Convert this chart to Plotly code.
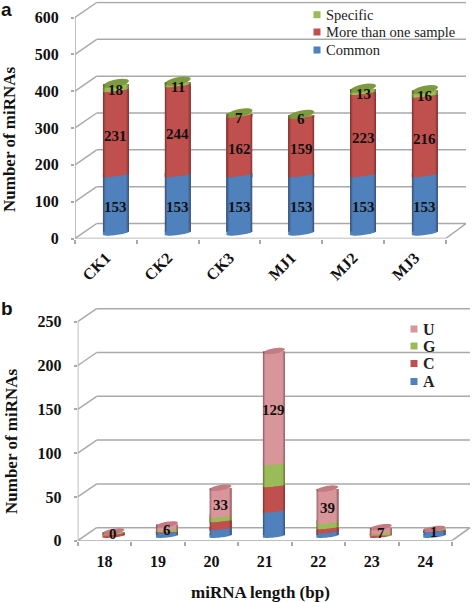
import math
import plotly.graph_objects as go

W, H = 472, 602
SERIF = "Liberation Serif"

# ---- data: panel a
samples = ["CK1", "CK2", "CK3", "MJ1", "MJ2", "MJ3"]
common = [153, 153, 153, 153, 153, 153]
multi = [231, 244, 162, 159, 223, 216]
specific = [18, 11, 7, 6, 13, 16]
a_ticks = [0, 100, 200, 300, 400, 500, 600]

# ---- data: panel b
lengths = ["18", "19", "20", "21", "22", "23", "24"]
base_a = [0, 3, 7, 27, 3, 0, 4]
base_c = [1, 1, 9, 29, 5, 1, 1]
base_g = [3, 2, 5, 25, 6, 1, 1]
base_u = [0, 6, 33, 129, 39, 7, 1]
b_ticks = [0, 50, 100, 150, 200, 250]

BLUE, RED, GREEN, PINK = "#4f81bd", "#c0504d", "#9bbb59", "#d9969a"
GRID = "#a9a9a9"

fig = go.Figure()
shapes, annos = [], []


def panel(xa, ya, cats, series, ticks, left, right_front, right_back, y0, yv, vmax,
          ytop, dx, dy, bar_off, bar_w, lift, bh, tilt, label_series, x_stand, x_angle, lab_shift):
    xref, yref = xa.replace("axis", ""), ya.replace("axis", "")
    cw = (right_front - left) / len(cats)
    k = (y0 - yv) / vmax
    PX = lambda px: (px - left) / cw - 0.5
    VAL = lambda py: (y0 - py) / k
    lift_v = lift / k
    fig.layout[xa] = dict(
        automargin=False, anchor=yref, domain=[left / W, right_back / W], range=[-0.5, PX(right_back)], showgrid=False,
        zeroline=False, showline=False, tickmode="array", tickvals=list(range(len(cats))),
        ticktext=cats, ticks="", tickfont=dict(family=SERIF, size=16, color="#111", weight="bold"),
        minor=dict(tickmode="array", tickvals=[i - 0.5 for i in range(len(cats) + 1)], ticks="outside",
                   ticklen=4, tickcolor=GRID, tickwidth=1.5, showgrid=False),
        ticklabelstandoff=x_stand, tickangle=x_angle)
    fig.layout[ya] = dict(
        automargin=False, anchor=xref, domain=[1 - y0 / H, 1 - ytop / H], range=[0, VAL(ytop)], showgrid=False, zeroline=False,
        showline=False, tickmode="array", tickvals=ticks, ticktext=[str(t) for t in ticks],
        ticks="outside", ticklen=3, tickcolor=GRID, tickwidth=1.5, ticklabelstandoff=9,
        tickfont=dict(family=SERIF, size=16, color="#111", weight="bold"))

    def line(x0, v0, x1, v1):
        shapes.append(dict(type="line", xref=xref, yref=yref, x0=PX(x0), y0=v0, x1=PX(x1), y1=v1,
                           line=dict(color=GRID, width=1.5), layer="below"))
    # wall
    line(left, 0, left, ticks[-1])
    line(left, 0, right_front, 0)
    line(right_front, 0, right_back, dy / k)
    for t in ticks:
        v = t + dy / k
        line(left, t, left + dx, v)
        line(left + dx, v, right_back, v)

    bar_x = [i + bar_off / cw for i in range(len(cats))]
    half = bar_w / 2
    cum = [lift_v] * len(cats)
    stacks = []
    for name, vals, col, dark in series:
        fig.add_trace(go.Bar(x=bar_x, y=vals, base=list(cum), name=name, marker=dict(color=col, line=dict(width=0)),
                             width=bar_w / cw, xaxis=xref, yaxis=yref, showlegend=False))
        stacks.append((vals, col, dark, list(cum)))
        cum = [c + v for c, v in zip(cum, vals)]

    def arc(cx, v, b, tl, start, end, n=24):
        pts = []
        for j in range(n + 1):
            t = start + (end - start) * j / n
            px = cx * cw + half * math.cos(t)
            py = b * math.sin(t) + tl * math.cos(t)
            pts.append((px / cw, v + py / k))
        return pts

    def poly(pts, col):
        d = "M " + " L ".join(f"{x:.4f},{y:.3f}" for x, y in pts) + " Z"
        shapes.append(dict(type="path", xref=xref, yref=yref, path=d, fillcolor=col, line=dict(width=0), layer="above"))

    for i, cx in enumerate(bar_x):
        live = [s for s in stacks if s[0][i] > 0]
        base_tilt = tilt * 0.65
        # rounded base: its right end meets the bar corner, the rest hangs below
        low = arc(cx, lift_v - base_tilt / k, bh * 0.5, base_tilt, 0, -math.pi)
        poly(low + [(low[-1][0], lift_v + 1.0 / k), (low[0][0], lift_v + 1.0 / k)], live[0][1])
        # slanted joins between segments
        for lo, up in zip(live, live[1:]):
            v = up[3][i]
            band = min(2.2, 0.5 * k * up[0][i]) / k
            j = arc(cx, v, bh * 0.3, tilt * 0.7, 0, -math.pi)
            poly(j + [(j[-1][0], v + band), (j[0][0], v + band)], up[1])
            poly(j + [(j[-1][0], v - band), (j[0][0], v - band)], lo[1])
        # top ellipse, in the shade of the uppermost series
        poly(arc(cx, cum[i], bh, tilt, 0, 2 * math.pi), stacks[-1][2])
        # cylinder edge shading
        for frac, alpha in ((0.09, 0.16), (0.05, 0.16), (0.02, 0.14)):
            w = frac * bar_w / cw
            for (a, b_) in ((cx - half / cw, cx - half / cw + w), (cx + half / cw - w, cx + half / cw)):
                shapes.append(dict(type="rect", xref=xref, yref=yref, x0=a, x1=b_, y0=lift_v,
                                   y1=cum[i] - bh * 0.2 / k, fillcolor=f"rgba(40,10,10,{alpha})",
                                   line=dict(width=0), layer="above"))
    # value labels
    for vals, _, _, bases in label_series(stacks):
        for i, cx in enumerate(bar_x):
            annos.append(dict(xref=xref, yref=yref, x=cx, y=bases[i] + vals[i] / 2, text=str(vals[i]),
                              showarrow=False, yshift=lab_shift, xanchor="center", yanchor="middle",
                              font=dict(family=SERIF, size=15, color="#111", weight="bold")))


panel("xaxis", "yaxis", samples,
      [("Common", common, BLUE, BLUE), ("More than one sample", multi, RED, RED),
       ("Specific", specific, GREEN, "#7d9a3f")],
      a_ticks, 75, 445.7, 466, 238.5, 17.5, 600, 1.5, 21.7, 15, 10, 26, 7.0, 3.9, 2.5,
      lambda s: s, 6, -45, -3.5)
panel("xaxis2", "yaxis2", lengths,
      [("A", base_a, BLUE, BLUE), ("C", base_c, RED, RED), ("G", base_g, GREEN, GREEN),
       ("U", base_u, PINK, "#c27b80")],
      b_ticks, 77.7, 452, 470, 540.7, 321.7, 250, 307, 19, 13, 9, 22, 5.7, 2.7, 1.8,
      lambda s: [s[-1]], 9, 0, -2.5)


def legend(items, sx, tx, font):
    for label, col, cy in items:
        shapes.append(dict(type="rect", xref="paper", yref="paper", x0=(sx - 3.5) / W, x1=(sx + 3.5) / W,
                           y0=1 - (cy + 3.5) / H, y1=1 - (cy - 3.5) / H, fillcolor=col, line=dict(width=0), layer="above"))
        annos.append(dict(xref="paper", yref="paper", x=tx / W, y=1 - cy / H, xanchor="left", yanchor="middle",
                          text=label, showarrow=False, font=font))


legend([("Specific", GREEN, 14.7), ("More than one sample", RED, 32), ("Common", BLUE, 50)],
       317, 323.5, dict(family=SERIF, size=14.5, color="#222"))
legend([("U", PINK, 329), ("G", GREEN, 346), ("C", RED, 363.5), ("A", BLUE, 381.5)],
       414, 421, dict(family=SERIF, size=16, color="#222", weight="bold"))

title_font = dict(family=SERIF, size=17, color="#111", weight="bold")
LET = dict(family="Liberation Sans", size=19, color="#111", weight="bold")
C = dict(xanchor="center", yanchor="middle", xref="paper", yref="paper", showarrow=False)
annos += [
    dict(x=9 / W, y=1 - 139 / H, text="Number of miRNAs", textangle=-90, font=title_font, **C),
    dict(x=11 / W, y=1 - 441 / H, text="Number of miRNAs", textangle=-90, font=title_font, **C),
    dict(x=260 / W, y=1 - 592 / H, text="miRNA length (bp)", font=title_font, **C),
    dict(x=6 / W, y=1 - 10 / H, text="a", font=LET, **C),
    dict(x=7 / W, y=1 - 308 / H, text="b", font=LET, **C),
]

fig.update_layout(width=W, height=H, margin=dict(l=0, r=0, t=0, b=0, autoexpand=False), barmode="overlay", bargap=0,
                  paper_bgcolor="white", plot_bgcolor="rgba(0,0,0,0)", showlegend=False,
                  shapes=shapes, annotations=annos)
fig.write_html("out.html", config=dict(displayModeBar=False),
               post_script="document.body.style.margin='0';document.body.style.overflow='hidden';")
